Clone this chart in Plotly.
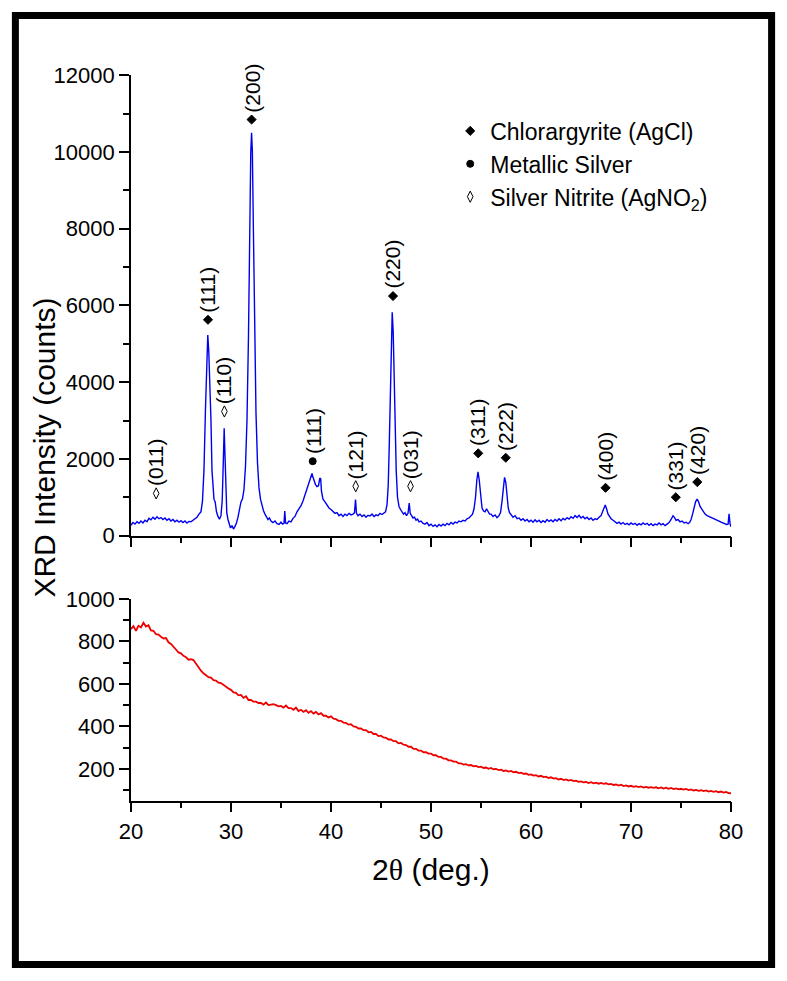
import plotly.graph_objects as go

# ---------------- data ----------------
# Upper pattern (sample), 2-theta in degrees and counts
blue_two_theta = [
    20.0, 20.2, 20.4, 20.6, 20.8, 21.0, 21.2, 21.4, 21.6, 21.8, 22.0, 22.2, 22.4, 22.6, 22.8, 23.0, 23.2, 23.4, 23.6, 23.8,
    24.0, 24.2, 24.4, 24.6, 24.8, 25.0, 25.2, 25.4, 25.6, 25.8, 26.0, 26.2, 26.4, 26.6, 26.8,
    27.0, 27.15, 27.3, 27.45, 27.58, 27.68, 27.78, 27.9, 28.0, 28.1, 28.2, 28.3, 28.42, 28.55, 28.7, 28.85, 29.0, 29.12,
    29.22, 29.32, 29.4, 29.48, 29.58, 29.7, 29.82, 29.95, 30.1, 30.25, 30.4, 30.55, 30.7, 30.85, 31.0, 31.15, 31.3, 31.45,
    31.6, 31.75, 31.88, 31.98, 32.06, 32.14, 32.24, 32.36, 32.5, 32.65, 32.8, 32.95, 33.1, 33.25, 33.4, 33.55, 33.7, 33.85,
    34.0, 34.2, 34.4, 34.6, 34.8, 35.0, 35.15, 35.3, 35.38, 35.46, 35.6, 35.8, 36.0, 36.2, 36.4, 36.6, 36.8, 37.0, 37.2,
    37.4, 37.6, 37.8, 37.95, 38.1, 38.2, 38.3, 38.45, 38.6, 38.75, 38.88, 38.97, 39.05, 39.2, 39.4, 39.6, 39.8, 40.0, 40.2,
    40.4, 40.6, 40.8, 41.0, 41.2, 41.4, 41.6, 41.8, 42.0, 42.2, 42.35, 42.45, 42.55, 42.7, 42.9, 43.1, 43.3, 43.5, 43.7,
    43.9, 44.1, 44.3, 44.5, 44.7, 44.9, 45.1, 45.3,
    45.45, 45.6, 45.72, 45.82, 45.92, 46.02, 46.12, 46.22, 46.32, 46.42, 46.52, 46.65, 46.8, 46.95, 47.1, 47.25, 47.4,
    47.55, 47.7, 47.82, 47.92, 48.05, 48.2, 48.35, 48.5, 48.65, 48.8, 49.0, 49.2, 49.4, 49.6, 49.8, 50.0, 50.2, 50.4, 50.6,
    50.8, 51.0, 51.2, 51.4, 51.6, 51.8, 52.0, 52.2, 52.4, 52.6, 52.8, 53.0, 53.2, 53.4, 53.6, 53.8,
    54.0, 54.15, 54.3, 54.45, 54.58, 54.7, 54.82, 54.95, 55.1, 55.25, 55.4, 55.55, 55.7, 55.85, 56.0, 56.2, 56.4, 56.6,
    56.8, 56.95, 57.1, 57.22, 57.35, 57.48, 57.6, 57.72, 57.85, 58.0, 58.2, 58.4, 58.6, 58.8, 59.0, 59.2, 59.4, 59.6, 59.8,
    60.0, 60.2, 60.4, 60.6, 60.8, 61.0, 61.2, 61.4, 61.6, 61.8, 62.0, 62.2, 62.4, 62.6, 62.8, 63.0, 63.2, 63.4, 63.6, 63.8,
    64.0, 64.2, 64.4, 64.6, 64.8, 65.0, 65.2, 65.4, 65.6, 65.8, 66.0, 66.2, 66.4, 66.6, 66.8, 67.0, 67.15, 67.3, 67.42,
    67.55, 67.7, 67.85, 68.0, 68.2, 68.4, 68.6, 68.8, 69.0, 69.2, 69.4, 69.6, 69.8, 70.0, 70.2, 70.4, 70.6, 70.8, 71.0,
    71.2, 71.4, 71.6, 71.8, 72.0, 72.2, 72.4, 72.6, 72.8, 73.0, 73.2, 73.4, 73.6, 73.8, 74.0, 74.2, 74.35, 74.5, 74.7,
    74.9, 75.1, 75.3, 75.5, 75.7, 75.85, 76.0, 76.15, 76.3, 76.45, 76.6, 76.75, 76.9, 77.05, 77.2, 77.4, 77.6, 77.8, 78.0,
    78.2, 78.4, 78.6, 78.8, 79.0, 79.2, 79.4, 79.55, 79.7, 79.8, 79.9, 80.0,
]
blue_counts = [
    270, 340, 300, 360, 320, 380, 330, 400, 360, 450, 410, 480, 430, 490, 440, 470, 420, 460, 400, 440,
    380, 420, 360, 400, 350, 390, 340, 380, 330, 370, 360, 400, 420, 480, 560,
    620, 900, 1700, 3300, 4700, 5230, 4800, 4000, 3000, 1700, 1150, 950, 880, 620, 500, 430, 520, 900,
    1800, 2800, 2100, 1000, 600, 420, 300, 200, 260, 170, 240, 330, 480, 680, 880, 960, 1200, 1800,
    3000, 5200, 8200, 10000, 10500, 10000, 8000, 5500, 3200, 1900, 1250, 950, 750, 650, 560, 470, 420, 460,
    380, 340, 380, 310, 290, 350, 300, 320, 640, 330, 310, 380, 360, 450, 500, 620, 700, 780, 900,
    1050, 1200, 1380, 1500, 1620, 1520, 1440, 1330, 1280, 1300, 1500, 1480, 1150, 950, 880, 800, 720, 680, 620,
    580, 600, 520, 560, 500, 560, 520, 580, 540, 560, 600, 940, 580, 520, 560, 500, 540, 480, 530,
    510, 560, 500, 540, 520, 580, 550, 600,
    620, 800, 1300, 2300, 3800, 5200, 5820, 5300, 4000, 3000, 1700, 1000, 760, 680, 620, 560, 600,
    520, 580, 850, 580, 520, 460, 480, 400, 430, 360, 380, 320, 300, 340, 260, 300, 240, 280, 230,
    290, 250, 300, 260, 320, 280, 340, 300, 350, 330, 380, 360, 400, 380, 440, 460,
    520, 560, 700, 1000, 1450, 1660, 1450, 1000, 720, 640, 620, 700, 640, 560, 560, 500, 540, 470,
    520, 600, 900, 1300, 1520, 1380, 1000, 720, 600, 540, 480, 520, 440, 460, 400, 440, 380, 420, 360,
    400, 350, 410, 360, 400, 340, 390, 350, 420, 370, 410, 360, 420, 380, 440, 390, 450, 410, 470, 430,
    490, 450, 520, 470, 530, 460, 500, 440, 480, 420, 460, 400, 440, 420, 480, 520, 620, 740, 800,
    700, 560, 500, 440, 400, 360, 320, 350, 300, 340, 290, 320, 280, 330, 290, 320, 270, 310, 280,
    330, 290, 320, 270, 310, 260, 300, 280, 330, 280, 310, 260, 300, 340, 420, 520, 470, 400, 420,
    360, 380, 330, 350, 310, 340, 420, 560, 720, 880, 950, 880, 760, 700, 640, 560, 520, 500, 470,
    440, 420, 400, 380, 350, 330, 310, 290, 300, 570, 300, 230,
]

# Lower pattern (reference / blank), 0.25 deg scan step from 20 to 80 deg
red_start, red_step = 20.0, 0.25
red_counts = [
    858, 872, 850, 874, 866, 888, 870, 876, 852, 850, 834, 832, 822, 814, 816, 796,
    788, 772, 762, 748, 744, 732, 726, 714, 716, 712, 694, 680, 662, 650, 642, 632,
    630, 618, 616, 606, 604, 594, 586, 578, 572, 560, 558, 546, 548, 534, 542, 524,
    524, 516, 516, 510, 510, 502, 512, 500, 502, 504, 500, 494, 496, 488, 498, 486,
    486, 478, 488, 472, 478, 468, 476, 464, 472, 460, 468, 456, 462, 450, 450, 442,
    447, 436, 434, 426, 426, 418, 416, 408, 410, 400, 398, 390, 390, 382, 382, 372,
    374, 364, 364, 354, 356, 348, 346, 338, 338, 330, 330, 320, 322, 314, 312, 304,
    304, 294, 294, 286, 286, 278, 278, 272, 272, 264, 264, 256, 256, 248, 248, 240,
    240, 234, 234, 226, 226, 220, 222, 216, 218, 212, 214, 208, 210, 204, 206, 200,
    204, 198, 200, 194, 196, 190, 192, 187, 190, 184, 186, 180, 182, 176, 178, 172,
    174, 168, 170, 164, 167, 161, 163, 157, 160, 154, 156, 150, 153, 147, 150, 145,
    148, 142, 144, 139, 141, 136, 138, 133, 137, 132, 135, 130, 134, 129, 132, 127,
    129, 124, 126, 121, 125, 119, 122, 117, 120, 115, 118, 114, 117, 112, 115, 111,
    114, 110, 113, 108, 112, 107, 111, 106, 110, 105, 108, 103, 106, 102, 105, 100,
    103, 98, 101, 96, 99, 95, 98, 93, 96, 92, 95, 90, 93, 88, 91, 86, 85,
]
red_two_theta = [red_start + red_step * i for i in range(len(red_counts))]

# Peak labels (Miller indices) with phase marker positions
label_text = ["(011)", "(111)", "(110)", "(200)", "(111)", "(121)", "(220)",
              "(031)", "(311)", "(222)", "(400)", "(331)", "(420)"]
label_phase = ["N", "C", "N", "C", "S", "N", "C", "N", "C", "C", "C", "C", "C"]
label_x = [22.52, 27.7, 29.34, 32.06, 38.17, 42.47, 46.2, 47.95, 54.72, 57.47, 67.45, 74.47, 76.62]
label_y = [1100, 5627, 3237, 10847, 1940, 1287, 6245, 1287, 2145, 2030, 1246, 1000, 1395]

phase_names = {"C": "Chlorargyrite (AgCl)", "S": "Metallic Silver", "N": "Silver Nitrite (AgNO<sub>2</sub>)"}
phase_symbols = {"C": "diamond", "S": "circle", "N": "diamond-tall-open"}
phase_sizes = {"C": 7, "S": 7, "N": 8}

# ---------------- figure ----------------
W, H = 787, 981
FONT = "Liberation Sans, Arial, sans-serif"

fig = go.Figure()

fig.add_trace(go.Scatter(x=blue_two_theta, y=blue_counts, mode="lines",
                         line=dict(color="#0000f0", width=1.4), showlegend=False,
                         xaxis="x", yaxis="y"))
fig.add_trace(go.Scatter(x=red_two_theta, y=red_counts, mode="lines",
                         line=dict(color="#ee0000", width=1.8), showlegend=False,
                         xaxis="x2", yaxis="y2"))

for ph in ["C", "S", "N"]:
    xs = [x for x, p in zip(label_x, label_phase) if p == ph]
    ys = [y for y, p in zip(label_y, label_phase) if p == ph]
    fig.add_trace(go.Scatter(
        x=xs, y=ys, mode="markers", name=phase_names[ph],
        marker=dict(symbol=phase_symbols[ph], size=phase_sizes[ph], color="black",
                    line=dict(color="black", width=1)),
        xaxis="x", yaxis="y", cliponaxis=False))

annotations = []
for t, x, y in zip(label_text, label_x, label_y):
    annotations.append(dict(x=x, y=y, xref="x", yref="y", text=t, textangle=-90,
                            showarrow=False, xanchor="center", yanchor="bottom", yshift=5,
                            font=dict(family=FONT, size=21, color="black")))

annotations.append(dict(x=34 / W, y=1 - 447 / H, xref="paper", yref="paper",
                        text="XRD Intensity (counts)", textangle=-90, showarrow=False,
                        xanchor="center", yanchor="middle",
                        font=dict(family=FONT, size=30, color="black")))
annotations.append(dict(x=432 / W, y=1 - 880 / H, xref="paper", yref="paper",
                        text="2<span style='font-family:Liberation Serif'>θ</span> (deg.)",
                        showarrow=False, xanchor="center", yanchor="middle",
                        font=dict(family=FONT, size=30, color="black")))

xdom = [122.7 / W, 741.7 / W]
axis_common = dict(showline=True, linecolor="black", linewidth=1.6, ticks="outside",
                   ticklen=10, tickwidth=1.6, tickcolor="black", showgrid=False,
                   zeroline=False, tickfont=dict(family=FONT, size=22, color="black"))

fig.update_layout(
    width=W, height=H, margin=dict(l=0, r=0, t=0, b=0),
    paper_bgcolor="white", plot_bgcolor="white",
    font=dict(family=FONT, color="black"),
    xaxis=dict(domain=xdom, anchor="y", range=[20, 80], tick0=20, dtick=10,
               showticklabels=False,
               minor=dict(dtick=5, ticks="outside", ticklen=6, tickwidth=1.6, tickcolor="black"),
               **axis_common),
    yaxis=dict(domain=[1 - 537.3 / H, 1 - 65 / H], anchor="x", range=[0, 12000], tick0=0,
               dtick=2000, tickformat="d",
               minor=dict(dtick=1000, ticks="outside", ticklen=6, tickwidth=1.6, tickcolor="black"),
               **axis_common),
    xaxis2=dict(domain=xdom, anchor="y2", range=[20, 80], tick0=20, dtick=10,
                minor=dict(dtick=5, ticks="outside", ticklen=6, tickwidth=1.6, tickcolor="black"),
                **axis_common),
    yaxis2=dict(domain=[1 - 809.3 / H, 1 - 602.3 / H], anchor="x2", range=[50, 1000], tick0=0,
                dtick=200, tickformat="d",
                minor=dict(dtick=100, ticks="outside", ticklen=6, tickwidth=1.6, tickcolor="black"),
                **axis_common),
    legend=dict(x=452 / W, y=1 - 100 / H, xanchor="left", yanchor="top",
                bgcolor="rgba(0,0,0,0)", borderwidth=0, tracegroupgap=0,
                font=dict(family=FONT, size=23, color="black")),
    annotations=annotations,
    shapes=[dict(type="rect", xref="paper", yref="paper",
                 x0=3.5 / W, x1=1 - 3.5 / W, y0=3.5 / H, y1=1 - 3.5 / H,
                 line=dict(color="black", width=7), fillcolor="rgba(0,0,0,0)")],
)

fig.write_html("out.html", config={"displayModeBar": False},
               post_script="document.body.style.margin='0';document.body.style.overflow='hidden';")
